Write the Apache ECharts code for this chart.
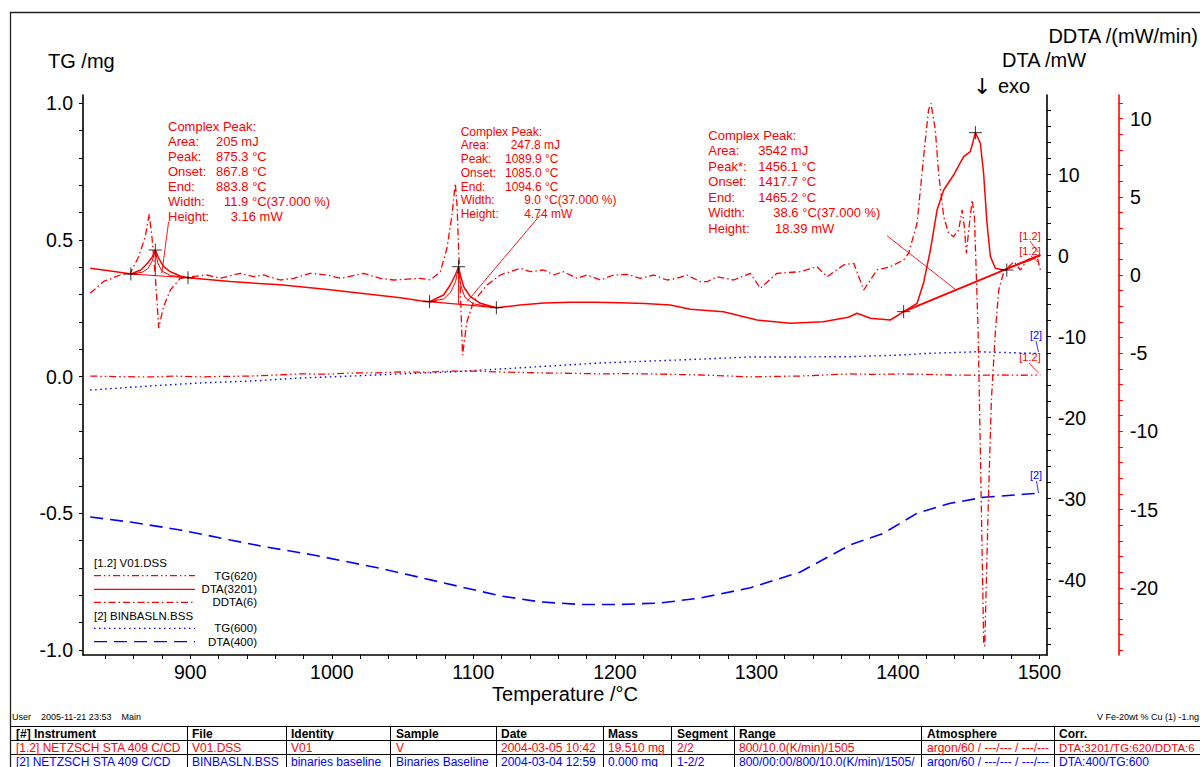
<!DOCTYPE html>
<html><head><meta charset="utf-8">
<script src="https://cdn.jsdelivr.net/npm/echarts@6/dist/echarts.min.js"></script>
<style>html,body{margin:0;padding:0;background:#fff}#c{width:1200px;height:767px}</style>
</head><body><div id="c"></div>
<script>
const FONT = '"Liberation Sans", Arial, Helvetica, sans-serif';
const RED = '#ff0000', BLUE = '#0000ff';

// ---------- data: [temperature °C, value] ----------
// [1.2] V01.DSS  DTA(3201)  /mW
const dta3201 = [[829.3,-1.56],[840,-1.80],[850,-2.05],[858.0,-2.26],[865.0,-1.77],[869.8,-0.94],[873.3,-0.12],[875.3,0.70],[877.7,-0.32],[881.2,-1.36],[885.9,-1.98],[892.9,-2.51],[898.4,-2.72],[928.3,-3.20],[963.6,-3.60],[998.9,-4.20],[1048.4,-5.20],[1062.5,-5.56],[1069.1,-5.68],[1079.0,-4.85],[1083.7,-3.62],[1087.3,-2.38],[1089.6,-1.36],[1090.8,-2.38],[1093.2,-3.83],[1097.9,-5.06],[1105.0,-5.88],[1116.3,-6.42],[1133.2,-6.09],[1150,-5.85],[1168.6,-5.75],[1186,-5.74],[1203.9,-5.80],[1221,-5.90],[1239.2,-6.09],[1253.4,-6.60],[1276.7,-6.91],[1300.5,-7.94],[1324.0,-8.35],[1347.3,-8.15],[1365,-7.60],[1371.2,-7.11],[1380.6,-7.73],[1394.7,-7.94],[1404.1,-6.91],[1413.6,-5.88],[1418.1,-3.41],[1423.0,0.70],[1427.7,5.64],[1432.4,8.11],[1439.4,9.96],[1446.5,12.22],[1451.2,12.84],[1454.8,15.19],[1458.3,13.88],[1460.6,10.17],[1463.0,4.00],[1465.4,-0.12],[1468.9,-1.56],[1474.8,-1.77],[1486.6,-0.94],[1493.6,-0.53],[1500.7,0.09]];
// [1.2] V01.DSS  DDTA(6)  /(mW/min)
const ddta6 = [[829.3,-1.17],[838.5,-0.43],[850.5,0],[857.6,0.11],[863.5,1.17],[868.2,2.45],[871.0,3.90],[872.9,2.45],[875.3,-0.11],[876.9,-2.24],[877.7,-3.39],[881.1,-2.03],[885.9,-0.96],[892.9,-0.21],[900,-0.11],[911.8,0],[921.2,-0.21],[935.3,0.11],[944.7,-0.11],[951.8,0],[963.6,-0.32],[973.1,-0.21],[984.8,0.11],[996.6,0],[1006.4,-0.21],[1022.5,0.11],[1034.3,-0.21],[1043.7,-0.32],[1062.5,-0.21],[1069.6,-0.32],[1076.7,0.21],[1081.4,1.71],[1084.9,3.84],[1087.3,5.86],[1088.5,4.48],[1089.6,1.71],[1090.8,-0.85],[1091.7,-3.20],[1092.4,-5.12],[1095.5,-2.99],[1100.1,-1.71],[1109.7,-0.64],[1119.1,0],[1133.2,0.43],[1140.3,0.21],[1149.7,0.32],[1156.8,0],[1163.8,0.21],[1173.3,-0.21],[1180.4,0],[1189.8,-0.32],[1199.2,0],[1208.6,0.04],[1218.0,-0.21],[1227.4,0],[1236.9,-0.32],[1243.9,-0.21],[1251.0,0],[1260.4,-0.43],[1265.2,-0.43],[1272.2,-0.11],[1284.0,-0.32],[1295.8,0.11],[1302.8,-0.85],[1314.6,0.11],[1331.1,0.21],[1342.9,0.53],[1350.0,-0.11],[1361.7,0.64],[1368.8,0.75],[1375.9,-0.96],[1385.3,0.32],[1394.7,0.53],[1404.1,0.96],[1407.6,1.39],[1413.6,3.31],[1418.2,7.56],[1421.7,10.55],[1423.4,10.98],[1426.5,9.27],[1428.8,6.50],[1432.4,3.73],[1435.9,2.67],[1439.4,2.45],[1443.0,2.88],[1445.4,4.16],[1447.0,3.09],[1448.4,1.39],[1450.1,2.88],[1452.5,4.80],[1454.1,3.73],[1455.5,-0.11],[1456.7,-3.52],[1458.3,-11.2],[1460.7,-23.66],[1461.4,-23.72],[1464.0,-14.39],[1466.1,-7.99],[1469.0,-3.52],[1471.3,-0.96],[1474.9,0.21],[1482.0,0.85],[1486.6,0.32],[1491.3,0.96],[1498.4,1.17],[1500.7,0.32]];
// [1.2] V01.DSS  TG(620)  /mg
const tg620 = [[829.3,0.002],[850,0.000],[871.7,-0.001],[890,0.002],[907.1,-0.001],[925,0.001],[942.4,0.002],[960,0.006],[977.7,0.010],[995,0.009],[1013.1,0.013],[1030,0.014],[1048.4,0.017],[1065,0.016],[1083.7,0.020],[1104.9,0.020],[1119.1,0.017],[1136,0.015],[1154.4,0.013],[1172,0.012],[1189.8,0.010],[1207,0.011],[1225.1,0.010],[1243,0.008],[1260.4,0.006],[1278,0.003],[1295.8,-0.001],[1313,0.001],[1331.1,0.002],[1348,0.006],[1366.4,0.010],[1384,0.008],[1401.8,0.010],[1420,0.008],[1437.1,0.006],[1455,0.005],[1472.4,0.006],[1487,0.005],[1500.7,0.006]];
// [2] BINBASLN.BSS  TG(600)  /mg
const tg600 = [[829.3,-0.049],[871.7,-0.034],[907.1,-0.023],[942.4,-0.016],[977.7,-0.005],[1013.1,0.002],[1048.4,0.010],[1083.7,0.017],[1119.1,0.028],[1154.4,0.039],[1189.8,0.050],[1225.1,0.057],[1260.4,0.064],[1295.8,0.072],[1331.1,0.072],[1366.4,0.073],[1401.8,0.079],[1420.6,0.085],[1456.0,0.091],[1498.4,0.085]];
// [2] BINBASLN.BSS  DTA(400)  /mW
const dta400 = [[829.3,-32.26],[857.6,-32.88],[892.9,-33.86],[928.3,-35.10],[951.6,-35.90],[986.9,-36.95],[1034.3,-38.60],[1076.7,-40.30],[1119.1,-42.00],[1147.3,-42.75],[1175.6,-43.06],[1203.9,-43.06],[1232.2,-42.88],[1260.4,-42.26],[1295.8,-41.00],[1331.1,-39.05],[1366.4,-35.70],[1389.8,-34.27],[1413.6,-31.80],[1437.1,-30.57],[1460.6,-29.83],[1488.9,-29.46],[1499.5,-29.33]];

// peak evaluation marks (DTA axis, mW)
const peakCrosses = [[858.0,-2.26],[875.3,0.70],[898.4,-2.72],[1069.1,-5.68],[1089.6,-1.36],[1116.3,-6.42],[1404.1,-6.91],[1454.8,15.19],[1477.0,-1.77]];
const baseline1 = [[858.0,-2.26],[898.4,-2.72]];
const inner1 = [[858.0,-2.26],[866,-2.05],[870,-1.6],[873,-0.7],[875.3,0.70],[877,-0.9],[880,-1.9],[886,-2.45],[898.4,-2.72]];
const drop1 = [[875.3,0.70],[875.3,-2.46]];
const leader1 = [[884.7,4.2],[879.9,-2.18]];
const baseline2 = [[1069.1,-5.68],[1116.3,-6.42]];
const inner2 = [[1069.1,-5.68],[1079,-5.35],[1084,-4.5],[1087.5,-3.2],[1089.6,-1.36],[1091,-3.6],[1094,-5.1],[1100,-5.95],[1116.3,-6.42]];
const drop2 = [[1089.6,-1.36],[1089.6,-6.0]];
const leader2 = [[1147.3,5.02],[1095.5,-5.68]];
const baseline3 = [[1404.1,-6.91],[1500.7,0.09]];
const leader3 = [[1392.3,2.47],[1440.6,-4.15]];

// axis ticks / labels
const xLabels = [900,1000,1100,1200,1300,1400,1500];
const tgLabels = [1.0,0.5,0.0,-0.5,-1.0];
const dtaLabels = [10,0,-10,-20,-30,-40];
const ddtaLabels = [10,5,0,-5,-10,-15,-20];
const xTicks = [], tgTicks = [], dtaTicks = [], ddtaTicks = [];
for (let t = 840; t <= 1500; t += 20) xTicks.push(t);
for (let i = -10; i <= 10; i++) tgTicks.push(i / 10);
for (let v = -48; v <= 18; v += 2) dtaTicks.push(v);
for (let v = -24; v <= 11; v += 1) ddtaTicks.push(v);

// annotation texts
const peakBlocks = [
  {x:168, y:126.7, step:14.9, size:13, rows:[['Complex Peak:',''],['Area:','205 mJ',216],['Peak:','875.3 °C',216],['Onset:','867.8 °C',216],['End:','883.8 °C',216],['Width:','11.9 °C(37.000 %)',224],['Height:','3.16 mW',230.7]]},
  {x:460.7, y:131.7, step:13.75, size:12, rows:[['Complex Peak:',''],['Area:','247.8 mJ',510.7],['Peak:','1089.9 °C',505],['Onset:','1085.0 °C',505],['End:','1094.6 °C',505],['Width:','9.0 °C(37.000 %)',524.3],['Height:','4.74 mW',524.3]]},
  {x:708.3, y:135, step:15.55, size:13, rows:[['Complex Peak:',''],['Area:','3542 mJ',758.3],['Peak*:','1456.1 °C',758.3],['Onset:','1417.7 °C',758.3],['End:','1465.2 °C',758.3],['Width:','38.6 °C(37.000 %)',773.3],['Height:','18.39 mW',775]]}
];
const tableCols = [16,192,291,396,501,608,677,739,927,1059];
const tableSeps = [187,286,390,496,603,671,734,921,1054];
const tableHeader = ['[#] Instrument','File','Identity','Sample','Date','Mass','Segment','Range','Atmosphere','Corr.'];
const tableRow1 = ['[1.2] NETZSCH STA 409 C/CD','V01.DSS','V01','V','2004-03-05 10:42','19.510 mg','2/2','800/10.0(K/min)/1505','argon/60 / ---/--- / ---/---','DTA:3201/TG:620/DDTA:6'];
const tableRow2 = ['[2] NETZSCH STA 409 C/CD','BINBASLN.BSS','binaries baseline','Binaries Baseline','2004-03-04 12:59','0.000 mg','1-2/2','800/00:00/800/10.0(K/min)/1505/','argon/60 / ---/--- / ---/---','DTA:400/TG:600'];

// line styles
const DASH_TG620 = [7,3,1.5,3,1.5,3];
const DASH_DDTA = [7,3,1.5,3];
const DASH_TG600 = [1.5,3.5];
const DASH_DTA400 = [13,7];

function txt(x, y, text, size, color, align, weight, family) {
  return {type:'text', x:x, y:y, silent:true, style:{text:text, fill:color||'#000', font:(weight?weight+' ':'')+(size||12)+'px '+(family||FONT), align:align||'left', verticalAlign:'middle', textAlign:align||'left', textVerticalAlign:'middle'}};
}
function ln(x1,y1,x2,y2,color,w,dash){
  return {type:'line', silent:true, shape:{x1:x1,y1:y1,x2:x2,y2:y2}, style:{stroke:color||'#000', lineWidth:w||1, lineDash:dash||null}};
}

const graphics = [];
// outer frame
graphics.push(ln(10,12.5,1200,12.5,'#222',1.3));
graphics.push(ln(10.5,12,10.5,767,'#222',1.3));
// axis titles
graphics.push(txt(48,61,'TG /mg',20));
graphics.push(txt(1198,36,'DDTA /(mW/min)',20,'#000','right'));
graphics.push(txt(1002,60,'DTA /mW',20));
graphics.push(txt(973,86,'↓',22,'#000','left','','"DejaVu Sans", sans-serif'));
graphics.push(txt(998,86,'exo',20));
// peak texts
peakBlocks.forEach(b => {
  b.rows.forEach((r,i) => {
    const y = b.y + i*b.step;
    graphics.push(txt(b.x, y, r[0], b.size, RED));
    if (r[1]) graphics.push(txt(r[2], y, r[1], b.size, RED));
  });
});
// legend
graphics.push(txt(94,563.3,'[1.2] V01.DSS',11.5));
graphics.push(ln(94,575.7,195,575.7,RED,1.3,DASH_TG620)); graphics.push(txt(257,575.7,'TG(620)',11.5,'#000','right'));
graphics.push(ln(94,589.3,195,589.3,RED,1.3)); graphics.push(txt(257,589.3,'DTA(3201)',11.5,'#000','right'));
graphics.push(ln(94,602.3,195,602.3,RED,1.3,DASH_DDTA)); graphics.push(txt(257,602.3,'DDTA(6)',11.5,'#000','right'));
graphics.push(txt(94,616,'[2] BINBASLN.BSS',11.5));
graphics.push(ln(94,628.3,195,628.3,BLUE,1.3,DASH_TG600)); graphics.push(txt(257,628.3,'TG(600)',11.5,'#000','right'));
graphics.push(ln(94,641.7,195,641.7,BLUE,1.3,DASH_DTA400)); graphics.push(txt(257,641.7,'DTA(400)',11.5,'#000','right'));
// curve tags at right end
graphics.push(txt(1030,236,'[1.2]',11,RED,'center')); graphics.push(ln(1030,241,1038,252,RED,0.8));
graphics.push(txt(1030,251,'[1.2]',11,RED,'center')); graphics.push(ln(1031,256,1038,262,RED,0.8));
graphics.push(txt(1036,335,'[2]',11,BLUE,'center')); graphics.push(ln(1036,341,1038.5,352,BLUE,0.8));
graphics.push(txt(1030,357,'[1.2]',11,RED,'center')); graphics.push(ln(1029,363,1038.5,373,RED,0.8));
graphics.push(txt(1036,475,'[2]',11,BLUE,'center')); graphics.push(ln(1036.5,481,1038.5,493,BLUE,0.8));
// footer
graphics.push(txt(12,717,'User    2005-11-21 23:53    Main',9));
graphics.push(txt(1199,717,'V Fe-20wt % Cu (1) -1.ng',9,'#000','right'));
// table
graphics.push(ln(10,726.5,1200,726.5,'#000',1));
graphics.push(ln(10,740.5,1200,740.5,'#000',1));
graphics.push(ln(10,754.5,1200,754.5,'#000',1));
tableSeps.forEach(x => graphics.push(ln(x+0.5,726,x+0.5,767,'#000',1)));
tableHeader.forEach((t,i) => graphics.push(txt(tableCols[i],733.5,t,12,'#000','left','bold')));
tableRow1.forEach((t,i) => graphics.push(txt(tableCols[i],747.5,t,i===9?11.5:12,RED)));
tableRow2.forEach((t,i) => graphics.push(txt(tableCols[i],761.5,t,12,BLUE)));

function lineSeries(name, data, yAxisIndex, color, width, type, z) {
  return {name:name, type:'line', data:data, yAxisIndex:yAxisIndex, symbol:'none', showSymbol:false, smooth:false,
    lineStyle:{color:color, width:width, type:type||'solid'}, itemStyle:{color:color}, z:z||2, silent:true};
}

const axisLblStyle = {color:'#000', fontSize:19.5, fontFamily:FONT};

const option = {
  animation:false,
  backgroundColor:'#fff',
  grid:{left:83, top:95, width:964, height:560, containLabel:false},
  xAxis:{type:'value', min:824.2, max:1505.4, position:'bottom',
    axisLine:{onZero:false, lineStyle:{color:'#000', width:1.6}},
    axisTick:{show:true, length:4, customValues:xTicks, lineStyle:{color:'#000', width:1}},
    axisLabel:Object.assign({customValues:xLabels, margin:7, formatter:v => String(Math.round(v))}, axisLblStyle),
    splitLine:{show:false},
    name:'Temperature /°C', nameLocation:'middle', nameGap:29, nameMoveOverlap:false,
    nameTextStyle:{color:'#000', fontSize:20, fontFamily:FONT}},
  yAxis:[
    {type:'value', position:'left', min:-1.018, max:1.030,
      axisLine:{show:true, onZero:false, lineStyle:{color:'#000', width:1.6}},
      axisTick:{show:true, length:4, customValues:tgTicks, lineStyle:{color:'#000'}},
      axisLabel:Object.assign({customValues:tgLabels, margin:10, formatter:v => Number(v).toFixed(1)}, axisLblStyle),
      splitLine:{show:false}},
    {type:'value', position:'right', min:-49.3, max:19.84,
      axisLine:{show:true, onZero:false, lineStyle:{color:'#000', width:1.6}},
      axisTick:{show:true, length:4, customValues:dtaTicks, lineStyle:{color:'#000'}},
      axisLabel:Object.assign({customValues:dtaLabels, margin:11, formatter:v => String(Math.round(v))}, axisLblStyle),
      splitLine:{show:false}},
    {type:'value', position:'right', offset:72, min:-24.30, max:11.51,
      axisLine:{show:true, onZero:false, lineStyle:{color:RED, width:1.6}},
      axisTick:{show:true, length:4, customValues:ddtaTicks, lineStyle:{color:RED}},
      axisLabel:Object.assign({customValues:ddtaLabels, margin:11, formatter:v => String(Math.round(v))}, axisLblStyle),
      splitLine:{show:false}}
  ],
  series:[
    lineSeries('DTA(400)', dta400, 1, BLUE, 1.6, DASH_DTA400, 2),
    lineSeries('TG(600)', tg600, 0, BLUE, 1.4, DASH_TG600, 2),
    lineSeries('TG(620)', tg620, 0, RED, 1.3, DASH_TG620, 3),
    lineSeries('DDTA(6)', ddta6, 2, RED, 1.3, DASH_DDTA, 3),
    lineSeries('DTA(3201)', dta3201, 1, RED, 1.5, 'solid', 4),
    lineSeries('base1', baseline1, 1, RED, 1.2),
    lineSeries('inner1', inner1, 1, RED, 1),
    lineSeries('drop1', drop1, 1, RED, 1),
    lineSeries('lead1', leader1, 1, RED, 0.9),
    lineSeries('base2', baseline2, 1, RED, 1.2),
    lineSeries('inner2', inner2, 1, RED, 1),
    lineSeries('drop2', drop2, 1, RED, 1),
    lineSeries('lead2', leader2, 1, RED, 0.9),
    lineSeries('base3', baseline3, 1, RED, 2),
    lineSeries('lead3', leader3, 1, RED, 0.9),
    {name:'marks', type:'scatter', yAxisIndex:1, data:peakCrosses, symbol:'path://M0,6.5H13M6.5,0V13', symbolSize:13,
      itemStyle:{color:'rgba(0,0,0,0)', borderColor:'#000', borderWidth:1}, z:6, silent:true}
  ],
  graphic:graphics
};

const chart = echarts.init(document.getElementById('c'), null, {renderer:'svg', width:1200, height:767});
chart.setOption(option);
</script></body></html>
